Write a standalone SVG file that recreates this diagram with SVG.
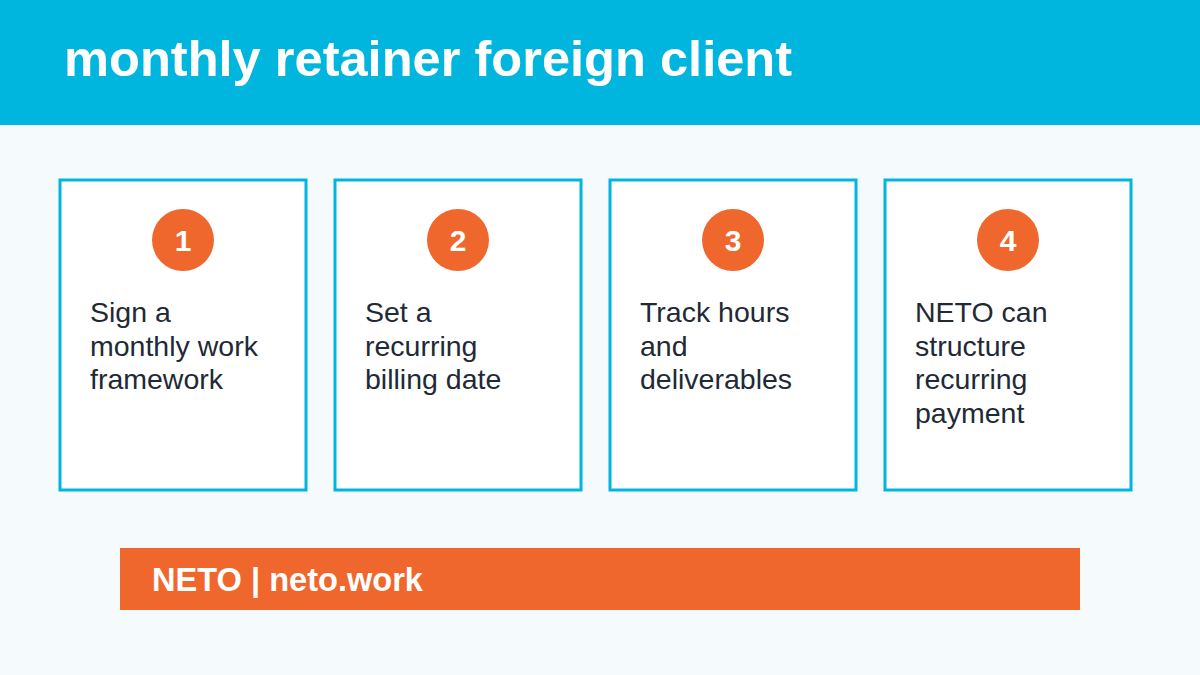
<svg xmlns="http://www.w3.org/2000/svg" width="1200" height="675" viewBox="0 0 1200 675">
<style>
.card{fill:#ffffff;stroke:#00B6DE;stroke-width:3}
.badge{fill:#F0672D}
.num{font-family:"Liberation Sans",Arial,sans-serif;font-weight:bold;font-size:30px;fill:#ffffff;text-anchor:middle}
.body{font-family:"Liberation Sans",Arial,sans-serif;font-size:28.5px;fill:#1f2a36}
.title{font-family:"Liberation Sans",Arial,sans-serif;font-weight:bold;font-size:50.6px;fill:#ffffff}
.foot{font-family:"Liberation Sans",Arial,sans-serif;font-weight:bold;font-size:32.6px;fill:#ffffff}
</style>
<rect x="0" y="0" width="1200" height="675" fill="#F5FAFD"/>
<g id="header">
<rect x="0" y="0" width="1200" height="125" fill="#00B6DE"/>
<text class="title" x="64" y="76">monthly retainer foreign client</text>
</g>
<g id="connectors"></g>
<g id="step1">
<rect class="card" x="60" y="180" width="246" height="310"/>
<circle class="badge" cx="183" cy="240" r="31"/>
<text class="num" x="183" y="251">1</text>
<text class="body" x="90" y="322">Sign a</text>
<text class="body" x="90" y="355.5">monthly work</text>
<text class="body" x="90" y="389">framework</text>
</g>
<g id="step2">
<rect class="card" x="335" y="180" width="246" height="310"/>
<circle class="badge" cx="458" cy="240" r="31"/>
<text class="num" x="458" y="251">2</text>
<text class="body" x="365" y="322">Set a</text>
<text class="body" x="365" y="355.5">recurring</text>
<text class="body" x="365" y="389">billing date</text>
</g>
<g id="step3">
<rect class="card" x="610" y="180" width="246" height="310"/>
<circle class="badge" cx="733" cy="240" r="31"/>
<text class="num" x="733" y="251">3</text>
<text class="body" x="640" y="322">Track hours</text>
<text class="body" x="640" y="355.5">and</text>
<text class="body" x="640" y="389">deliverables</text>
</g>
<g id="step4">
<rect class="card" x="885" y="180" width="246" height="310"/>
<circle class="badge" cx="1008" cy="240" r="31"/>
<text class="num" x="1008" y="251">4</text>
<text class="body" x="915" y="322">NETO can</text>
<text class="body" x="915" y="355.5">structure</text>
<text class="body" x="915" y="389">recurring</text>
<text class="body" x="915" y="422.5">payment</text>
</g>
<g id="footer">
<rect x="120" y="548" width="960" height="62" fill="#F0672D"/>
<text class="foot" x="152" y="591">NETO | neto.work</text>
</g>
</svg>
